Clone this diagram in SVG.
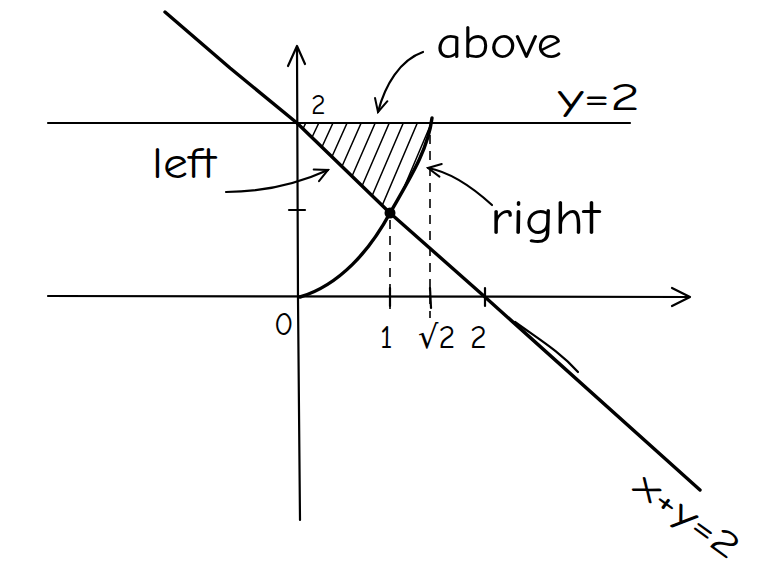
<svg xmlns="http://www.w3.org/2000/svg" width="758" height="572" viewBox="0 0 758 572">
<style>
.ln{fill:none;stroke:#000;stroke-width:2.2;stroke-linecap:round;stroke-linejoin:round}
.thk{fill:none;stroke:#000;stroke-width:3.4;stroke-linecap:round;stroke-linejoin:round}
.ds{fill:none;stroke:#000;stroke-width:1.6;stroke-dasharray:9 7}
.ht{fill:none;stroke:#000;stroke-width:1.5}
.t{font-family:"Comic Neue","DejaVu Sans",sans-serif;fill:#000}
</style>
<defs>
<marker id="ah" viewBox="0 0 20 20" refX="18" refY="10" markerWidth="16" markerHeight="16" markerUnits="userSpaceOnUse" orient="auto">
<path d="M2,2 L18,10 L2,18" fill="none" stroke="#000" stroke-width="2.5" stroke-linecap="round"/>
</marker>
<clipPath id="reg"><path d="M297,123 L432,123 C430,150 410,178 390,213 Z"/></clipPath>
</defs>
<rect width="758" height="572" fill="#fff"/>
<g id="axes">
<path class="ln" d="M297,48 L298,300 L300,520"/>
<path class="ln" d="M288,66 L297,46 L305,64"/>
<path class="ln" d="M48,296 L688,297"/>
<path class="ln" d="M672,288 L690,297 L672,306"/>
<path class="ln" d="M48,123 L630,123"/>
<path class="ln" d="M289,210 L305,210"/>
<path class="ln" d="M390,288 L390,306"/>
<path class="ln" d="M430,288 L431,308"/>
<path class="ln" d="M485,288 L485,306"/>
</g>
<g id="region">
<g clip-path="url(#reg)">
<path class="ht" d="M300,135 L311,112 M306,150 L324,112 M316,160 L338,112 M326,170 L352,112 M336,180 L366,112 M346,190 L380,112 M356,200 L394,112 M366,210 L408,112 M376,220 L422,112 M386,230 L436,112"/>
</g>
</g>
<g id="diagonal">
<path class="thk" d="M165,12 L230,68 L297,123 L390,213 L485,297 L700,490"/>
<path class="ln" d="M515,322 C540,340 560,352 578,372" stroke-width="1.2"/>
</g>
<g id="curve">
<path class="thk" d="M300,297 C340,285 370,250 390,213 C410,178 428,150 432,118"/>
<circle cx="390" cy="213" r="5.5" fill="#000"/>
</g>
<g id="dashes">
<path class="ds" d="M390,220 L390,315"/>
<path class="ds" d="M430,135 L430,318"/>
</g>
<g id="connectors">
<path class="ln" d="M423,52 C400,60 385,85 378,112" marker-end="url(#ah)"/>
<path class="ln" d="M226,192 C260,192 295,185 328,170" marker-end="url(#ah)"/>
<path class="ln" d="M492,205 C470,185 450,172 428,168" marker-end="url(#ah)"/>
</g>
<g id="labels">
<text class="t" x="436" y="58" font-size="46" textLength="126" lengthAdjust="spacingAndGlyphs">above</text>
<text class="t" x="558" y="110" font-size="38" textLength="82" lengthAdjust="spacingAndGlyphs">y=2</text>
<text class="t" x="311" y="114" font-size="28">2</text>
<text class="t" x="152" y="178" font-size="44" textLength="64" lengthAdjust="spacingAndGlyphs">left</text>
<text class="t" x="490" y="234" font-size="48" textLength="110" lengthAdjust="spacingAndGlyphs">right</text>
<text class="t" x="274" y="335" font-size="32">0</text>
<text class="t" x="380" y="348" font-size="32">1</text>
<text class="t" x="418" y="348" font-size="32">√2</text>
<text class="t" x="470" y="348" font-size="32">2</text>
<text class="t" x="0" y="0" font-size="36" textLength="120" lengthAdjust="spacingAndGlyphs" transform="translate(632,490) rotate(36)">x+y=2</text>
</g>
</svg>
